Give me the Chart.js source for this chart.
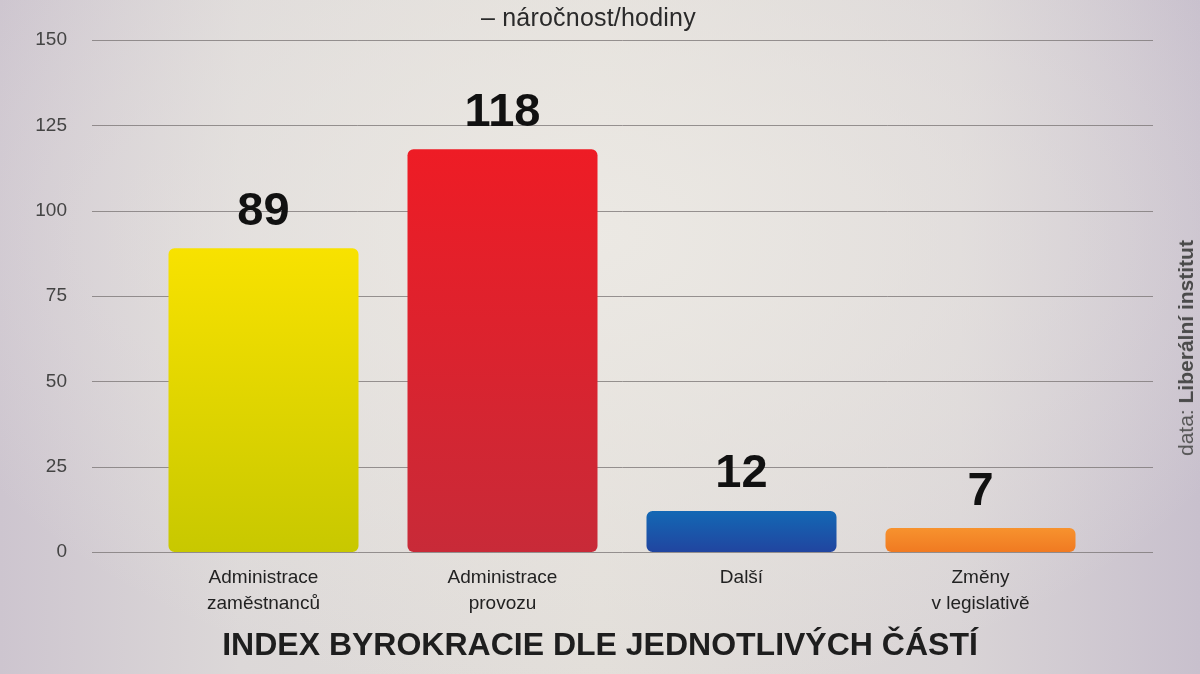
<!DOCTYPE html>
<html>
<head>
<meta charset="utf-8">
<script src="https://cdn.jsdelivr.net/npm/chart.js@4"></script>
<style>
  html, body { margin: 0; padding: 0; }
  body {
    width: 1200px; height: 674px; overflow: hidden; position: relative;
    font-family: "Liberation Sans", Arial, sans-serif;
    background:
      radial-gradient(ellipse 60% 70% at 50% 35%, rgba(236,233,228,0.95), rgba(236,233,228,0) 100%),
      linear-gradient(90deg, #cdc5cf 0%, #dcd8d8 20%, #e2ded9 50%, #d9d4d6 80%, #c8c0cd 100%);
  }
  #wrap { position: absolute; left: 0; top: 0; width: 1200px; height: 674px; }
  .sub { position: absolute; top: 3px; left: 481px; font-size: 25px; color: #2a2a2a; letter-spacing: 0.2px; }
  .title { position: absolute; top: 626px; left: 0; width: 1200px; text-align: center;
    font-size: 32px; font-weight: bold; color: #1e1e1e; letter-spacing: 0px; }
  .src { position: absolute; left: 1186px; top: 348px; transform: translate(-50%, -50%) rotate(-90deg);
    white-space: nowrap; font-size: 21px; color: #555; }
  .src b { color: #4a4a4a; }
</style>
</head>
<body>
<div id="wrap"><canvas id="myChart" width="1200" height="674"></canvas></div>
<div class="sub">– náročnost/hodiny</div>
<div class="title">INDEX BYROKRACIE DLE JEDNOTLIVÝCH ČÁSTÍ</div>
<div class="src">data: <b>Liberální institut</b></div>
<script>
// data
var categories = [["Administrace", "zaměstnanců"], ["Administrace", "provozu"], ["Další"], ["Změny", "v legislativě"]];
var values = [89, 118, 12, 7];
var yTicks = [0, 25, 50, 75, 100, 125, 150];

var topColors = ["#f8e200", "#ee1c25", "#1368b4", "#f7922e"];
var bottomColors = ["#c8c800", "#c82a38", "#2145a0", "#f07a22"];

function barGradient(context) {
  var chart = context.chart;
  var i = context.dataIndex;
  if (!chart.chartArea) return topColors[i];
  var y = chart.scales.y;
  var top = y.getPixelForValue(values[i]);
  var bottom = y.getPixelForValue(0);
  var g = chart.ctx.createLinearGradient(0, top, 0, bottom);
  g.addColorStop(0, topColors[i]);
  g.addColorStop(1, bottomColors[i]);
  return g;
}

// horizontal grid lines span wider than the bars
var gridPlugin = {
  id: 'wideGrid',
  beforeDatasetsDraw: function (chart) {
    var ctx = chart.ctx;
    var y = chart.scales.y;
    ctx.save();
    ctx.strokeStyle = "rgba(120,115,115,0.75)";
    ctx.lineWidth = 1;
    yTicks.forEach(function (t) {
      var py = Math.round(y.getPixelForValue(t)) + 0.5;
      ctx.beginPath();
      ctx.moveTo(92, py);
      ctx.lineTo(1153, py);
      ctx.stroke();
    });
    ctx.restore();
  }
};

var valuePlugin = {
  id: 'values',
  afterDatasetsDraw: function (chart) {
    var ctx = chart.ctx;
    var meta = chart.getDatasetMeta(0);
    ctx.save();
    ctx.fillStyle = "#111";
    ctx.font = "bold 47px 'Liberation Sans', Arial, sans-serif";
    ctx.textAlign = "center";
    ctx.textBaseline = "bottom";
    meta.data.forEach(function (bar, i) {
      ctx.fillText(values[i], bar.x, bar.y - 13);
    });
    ctx.restore();
  }
};

var ctx = document.getElementById('myChart').getContext('2d');
var myChart = new Chart(ctx, {
  type: 'bar',
  data: {
    labels: categories,
    datasets: [{
      data: values,
      backgroundColor: barGradient,
      borderRadius: 6,
      borderSkipped: false,
      categoryPercentage: 1,
      barPercentage: 0.795
    }]
  },
  options: {
    responsive: false,
    animation: false,
    devicePixelRatio: 1,
    layout: { padding: { top: 40, right: 100, left: 0, bottom: 0 } },
    plugins: { legend: { display: false }, tooltip: { enabled: false } },
    scales: {
      x: {
        grid: { display: false },
        border: { display: false },
        ticks: {
          color: "#222",
          font: { size: 19, family: "'Liberation Sans', Arial, sans-serif", lineHeight: 1.4 },
          padding: 4,
          maxRotation: 0
        },
        afterFit: function (s) { s.height = 122; }
      },
      y: {
        min: 0, max: 150,
        afterBuildTicks: function (s) { s.ticks = yTicks.map(function (v) { return { value: v }; }); },
        grid: { display: false },
        border: { display: false },
        ticks: {
          color: "#444",
          font: { size: 19, family: "'Liberation Sans', Arial, sans-serif" },
          padding: 69
        },
        afterFit: function (s) { s.width = 144; s.paddingTop = 0; s.paddingBottom = 0; }
      }
    }
  },
  plugins: [gridPlugin, valuePlugin]
});
</script>
</body>
</html>
